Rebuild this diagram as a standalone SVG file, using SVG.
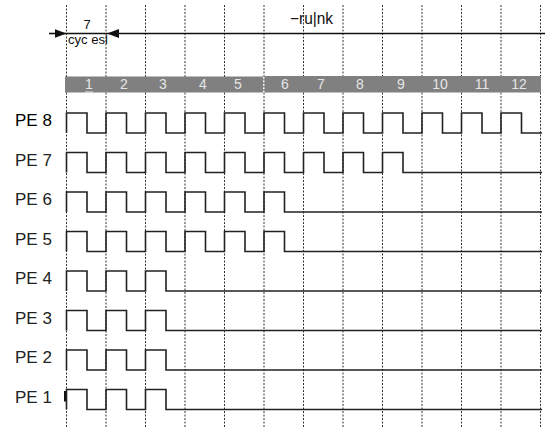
<svg xmlns="http://www.w3.org/2000/svg" width="545" height="427" viewBox="0 0 545 427">
<defs>
<style>
.grid{stroke:#333;stroke-width:1;stroke-dasharray:2,1.5;fill:none}
.wave{stroke:#222;stroke-width:1.6;fill:none}
.lbl{font-family:"Liberation Sans",Arial,sans-serif;font-size:17px;fill:#222}
.num{font-family:"Liberation Sans",Arial,sans-serif;font-size:14px;fill:#e6e6e6;text-anchor:middle}
.small{font-family:"Liberation Sans",Arial,sans-serif;font-size:13px;fill:#111}
</style>
<path id="w3" d="M66.5,20 V0 H87 V20 H106 V0 H126.5 V20 H145.5 V0 H166 V20 H542"/>
<path id="w6" d="M66.5,20 V0 H87 V20 H106 V0 H126.5 V20 H145.5 V0 H166 V20 H185 V0 H205.5 V20 H224.5 V0 H245 V20 H264 V0 H284.5 V20 H542"/>
<path id="w9" d="M66.5,20 V0 H87 V20 H106 V0 H126.5 V20 H145.5 V0 H166 V20 H185 V0 H205.5 V20 H224.5 V0 H245 V20 H264 V0 H284.5 V20 H303.5 V0 H324 V20 H343 V0 H363.5 V20 H382.5 V0 H403 V20 H542"/>
<path id="w12" d="M66.5,20 V0 H87 V20 H106 V0 H126.5 V20 H145.5 V0 H166 V20 H185 V0 H205.5 V20 H224.5 V0 H245 V20 H264 V0 H284.5 V20 H303.5 V0 H324 V20 H343 V0 H363.5 V20 H382.5 V0 H403 V20 H422 V0 H442.5 V20 H461.5 V0 H482 V20 H501 V0 H521.5 V20 H542"/>
<marker id="ah" markerWidth="12" markerHeight="9" refX="12" refY="4.5" orient="auto" markerUnits="userSpaceOnUse">
<path d="M0,0 L12,4.5 L0,9 Z" fill="#111"/>
</marker>
</defs>
<rect width="545" height="427" fill="#fff"/>
<g id="grid">
<path class="grid" d="M66.5,5V427M106,5V427M145.5,5V427M185,5V427M224.5,5V427M264,5V427M303.5,5V427M343,5V427M382.5,5V427M422,5V427M461.5,5V427M501,5V427M540.5,5V427"/>
</g>
<g id="cycle-bar">
<rect x="65" y="76.5" width="198" height="16" fill="#808080"/>
<rect x="264.5" y="76" width="276.5" height="16.5" fill="#808080"/>
<text class="num" x="89" y="89">1</text>
<rect x="85" y="91.5" width="8" height="1" fill="#e6e6e6"/>
<text class="num" x="124" y="89">2</text>
<text class="num" x="163" y="89">3</text>
<text class="num" x="203" y="89">4</text>
<text class="num" x="238" y="89">5</text>
<text class="num" x="285" y="89">6</text>
<text class="num" x="321" y="89">7</text>
<text class="num" x="360" y="89">8</text>
<text class="num" x="401" y="89">9</text>
<text class="num" x="440" y="89">10</text>
<text class="num" x="482" y="89">11</text>
<text class="num" x="519" y="89">12</text>
</g>
<g id="connectors">
<line x1="49" y1="33.5" x2="66.5" y2="33.5" stroke="#111" stroke-width="1.6" marker-end="url(#ah)"/>
<line x1="545" y1="33.5" x2="107" y2="33.5" stroke="#111" stroke-width="1.6" marker-end="url(#ah)"/>
<line x1="66.5" y1="33.5" x2="107" y2="33.5" stroke="#111" stroke-width="1.6"/>
</g>
<g id="labels-top">
<text class="small" x="87" y="29" text-anchor="middle" font-size="14">7</text>
<text class="small" x="68" y="44" textLength="40" lengthAdjust="spacingAndGlyphs">cyc esl</text>
<text class="small" x="290" y="24" style="font-size:16px" textLength="43" lengthAdjust="spacingAndGlyphs">−ru|nk</text>
</g>
<g id="pe8"><text class="lbl" x="15" y="126" style="fill:#000">PE 8</text><use href="#w12" class="wave" transform="translate(0,113)"/></g>
<g id="pe7"><text class="lbl" x="15" y="165.5">PE 7</text><use href="#w9" class="wave" transform="translate(0,152.5)"/></g>
<g id="pe6"><text class="lbl" x="15" y="205">PE 6</text><use href="#w6" class="wave" transform="translate(0,192)"/></g>
<g id="pe5"><text class="lbl" x="15" y="244.5">PE 5</text><use href="#w6" class="wave" transform="translate(0,231.5)"/></g>
<g id="pe4"><text class="lbl" x="15" y="284">PE 4</text><use href="#w3" class="wave" transform="translate(0,271)"/></g>
<g id="pe3"><text class="lbl" x="15" y="323.5">PE 3</text><use href="#w3" class="wave" transform="translate(0,310.5)"/></g>
<g id="pe2"><text class="lbl" x="15" y="363">PE 2</text><use href="#w3" class="wave" transform="translate(0,350)"/></g>
<g id="pe1"><text class="lbl" x="15" y="402.5">PE 1</text><rect x="64" y="391" width="2.5" height="10.5" fill="#111"/><use href="#w3" class="wave" transform="translate(0,389.5)"/></g>
</svg>
